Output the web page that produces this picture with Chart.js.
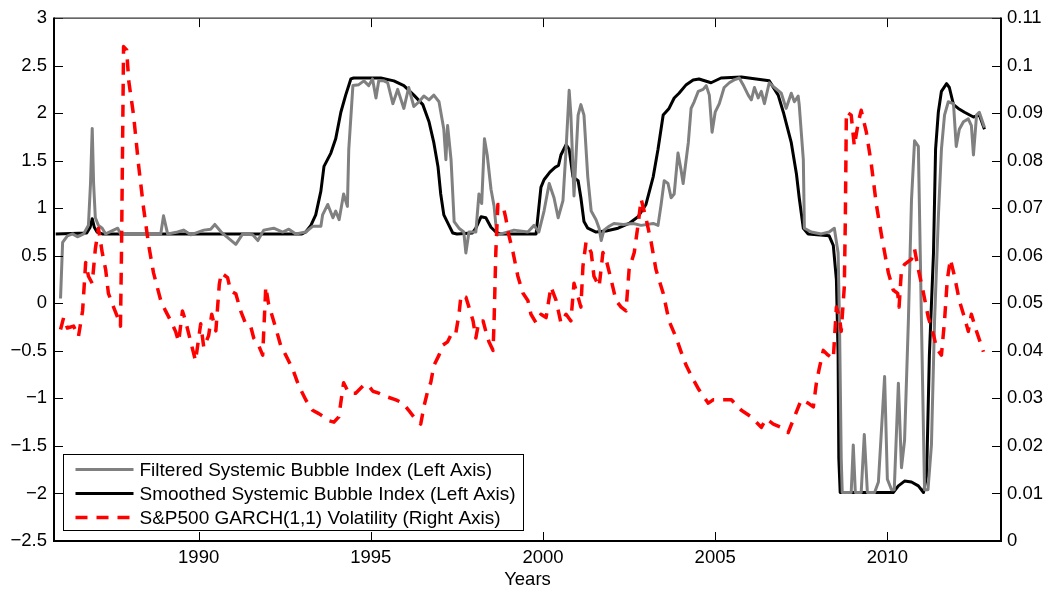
<!DOCTYPE html>
<html>
<head>
<meta charset="utf-8">
<script src="https://cdn.jsdelivr.net/npm/chart.js@4"></script>
<style>
  body { margin: 0; background: #fff; }
  #wrap { width: 1050px; height: 592px; }
</style>
</head>
<body>
<div id="wrap"><canvas id="myChart" width="1050" height="592"></canvas></div>
<script>
// x tick values (years) and axis tick labels
const yearTicks = [1990, 1995, 2000, 2005, 2010];
const leftTicks = [-2.5, -2, -1.5, -1, -0.5, 0, 0.5, 1, 1.5, 2, 2.5, 3];
const leftTickLabels = ["\u22122.5", "\u22122", "\u22121.5", "\u22121", "\u22120.5", "0", "0.5", "1", "1.5", "2", "2.5", "3"];
const rightTicks = [0, 0.01, 0.02, 0.03, 0.04, 0.05, 0.06, 0.07, 0.08, 0.09, 0.1, 0.11];
const rightTickLabels = ["0", "0.01", "0.02", "0.03", "0.04", "0.05", "0.06", "0.07", "0.08", "0.09", "0.1", "0.11"];

// Filtered systemic bubble index (left axis)
const filteredYears = [1985.99, 1986.05, 1986.19, 1986.34, 1986.48, 1986.66, 1986.80, 1986.86, 1986.91, 1986.95,
  1987.00, 1987.09, 1987.20, 1987.30, 1987.65, 1987.73, 1988.90, 1988.98, 1989.10, 1989.39,
  1989.56, 1989.77, 1990.15, 1990.35, 1990.47, 1990.68, 1991.08, 1991.28, 1991.57, 1991.72,
  1991.89, 1992.18, 1992.44, 1992.62, 1992.82, 1993.11, 1993.31, 1993.55, 1993.60, 1993.75,
  1993.90, 1993.98, 1994.08, 1994.21, 1994.32, 1994.36, 1994.48, 1994.65, 1994.80, 1994.94,
  1995.05, 1995.15, 1995.23, 1995.38, 1995.49, 1995.64, 1995.78, 1995.96, 1996.10, 1996.25,
  1996.40, 1996.54, 1996.69, 1996.83, 1996.98, 1997.12, 1997.18, 1997.23, 1997.33, 1997.42,
  1997.56, 1997.70, 1997.76, 1997.85, 1998.05, 1998.14, 1998.22, 1998.30, 1998.38, 1998.49,
  1998.58, 1998.66, 1998.78, 1999.16, 1999.56, 1999.74, 1999.88, 2000.03, 2000.18, 2000.32,
  2000.44, 2000.58, 2000.67, 2000.76, 2000.81, 2000.90, 2001.02, 2001.10, 2001.19, 2001.30,
  2001.40, 2001.54, 2001.63, 2001.69, 2001.77, 2001.92, 2002.06, 2002.33, 2002.62, 2002.85,
  2003.20, 2003.34, 2003.43, 2003.52, 2003.63, 2003.72, 2003.81, 2003.92, 2004.01, 2004.07,
  2004.22, 2004.30, 2004.39, 2004.51, 2004.65, 2004.74, 2004.83, 2004.91, 2005.00, 2005.12,
  2005.26, 2005.41, 2005.55, 2005.70, 2005.81, 2005.96, 2006.05, 2006.14, 2006.25, 2006.34,
  2006.43, 2006.57, 2006.72, 2006.92, 2007.06, 2007.21, 2007.30, 2007.41, 2007.44, 2007.56,
  2007.59, 2007.79, 2008.08, 2008.31, 2008.46, 2008.57, 2008.61, 2008.66, 2008.69, 2008.95,
  2009.01, 2009.07, 2009.24, 2009.33, 2009.42, 2009.63, 2009.74, 2009.92, 2010.00, 2010.12,
  2010.20, 2010.32, 2010.41, 2010.50, 2010.61, 2010.70, 2010.79, 2010.90, 2010.99, 2011.08,
  2011.18, 2011.28, 2011.37, 2011.48, 2011.57, 2011.66, 2011.77, 2011.92, 2012.00, 2012.09,
  2012.21, 2012.35, 2012.44, 2012.50, 2012.59, 2012.67, 2012.82];
const filteredValues = [0.05, 0.64, 0.71, 0.73, 0.70, 0.73, 0.82, 1.26, 1.84, 1.26,
  0.90, 0.82, 0.79, 0.73, 0.79, 0.73, 0.73, 0.92, 0.73, 0.75,
  0.77, 0.72, 0.77, 0.78, 0.83, 0.74, 0.62, 0.73, 0.72, 0.66,
  0.77, 0.79, 0.75, 0.78, 0.73, 0.75, 0.81, 0.81, 0.93, 1.04,
  0.90, 0.97, 0.88, 1.15, 1.02, 1.62, 2.29, 2.30, 2.34, 2.29,
  2.36, 2.16, 2.34, 2.34, 2.32, 2.10, 2.25, 2.05, 2.27, 2.07,
  2.12, 2.18, 2.14, 2.19, 2.12, 1.83, 1.51, 1.87, 1.51, 0.86,
  0.79, 0.75, 0.53, 0.75, 0.75, 1.15, 1.05, 1.73, 1.56, 1.20,
  1.02, 0.72, 0.73, 0.77, 0.75, 0.82, 0.75, 0.97, 1.26, 1.11,
  0.90, 1.08, 1.62, 2.24, 1.98, 1.13, 1.98, 2.09, 1.98, 1.33,
  0.97, 0.88, 0.79, 0.66, 0.77, 0.81, 0.84, 0.83, 0.84, 0.82,
  0.84, 0.82, 1.04, 1.29, 1.26, 1.11, 1.15, 1.58, 1.40, 1.26,
  1.69, 2.05, 2.12, 2.23, 2.25, 2.29, 2.19, 1.80, 2.01, 2.10,
  2.27, 2.32, 2.35, 2.37, 2.30, 2.19, 2.14, 2.27, 2.16, 2.23,
  2.10, 2.32, 2.27, 2.21, 2.05, 2.21, 2.12, 2.18, 2.09, 1.51,
  0.79, 0.75, 0.73, 0.75, 0.79, 0.53, -0.19, -1.63, -1.99, -1.99,
  -1.49, -1.99, -1.99, -1.38, -1.99, -1.99, -1.88, -0.77, -1.85, -1.96,
  -1.96, -0.84, -1.73, -1.44, -0.19, 1.08, 1.71, 1.65, -0.19, -1.96,
  -1.96, -1.49, -0.19, 0.90, 1.62, 1.98, 2.12, 2.10, 1.65, 1.83,
  1.91, 1.94, 1.87, 1.56, 1.98, 2.01, 1.85];

// Smoothed systemic bubble index (left axis)
const smoothedYears = [1985.85, 1986.75, 1986.85, 1986.91, 1986.97, 1987.05, 1987.20, 1993.00, 1993.11, 1993.26,
  1993.40, 1993.55, 1993.64, 1993.84, 1993.98, 1994.13, 1994.27, 1994.42, 1994.50, 1995.29,
  1995.67, 1995.96, 1996.25, 1996.51, 1996.69, 1996.83, 1996.95, 1997.03, 1997.12, 1997.27,
  1997.38, 1997.50, 1997.95, 1998.05, 1998.20, 1998.34, 1998.49, 1998.63, 1998.75, 1999.80,
  1999.94, 2000.03, 2000.20, 2000.35, 2000.45, 2000.52, 2000.67, 2000.76, 2000.87, 2001.02,
  2001.10, 2001.19, 2001.30, 2001.54, 2001.83, 2002.18, 2002.50, 2002.76, 2002.99, 2003.20,
  2003.34, 2003.49, 2003.66, 2003.81, 2003.95, 2004.16, 2004.36, 2004.53, 2004.88, 2005.17,
  2005.76, 2006.57, 2006.83, 2006.98, 2007.21, 2007.36, 2007.44, 2007.56, 2007.70, 2008.31,
  2008.43, 2008.52, 2008.57, 2008.59, 2008.63, 2010.17, 2010.32, 2010.50, 2010.70, 2010.90,
  2011.05, 2011.14, 2011.22, 2011.34, 2011.40, 2011.48, 2011.57, 2011.72, 2011.80, 2011.92,
  2012.06, 2012.24, 2012.50, 2012.67, 2012.82];
const smoothedValues = [0.73, 0.74, 0.80, 0.89, 0.80, 0.75, 0.73, 0.73, 0.75, 0.82,
  0.93, 1.18, 1.44, 1.58, 1.73, 2.01, 2.19, 2.36, 2.37, 2.37,
  2.34, 2.29, 2.19, 2.09, 1.91, 1.69, 1.44, 1.15, 0.93, 0.82,
  0.74, 0.73, 0.74, 0.79, 0.91, 0.90, 0.80, 0.75, 0.73, 0.73,
  1.22, 1.30, 1.38, 1.43, 1.45, 1.56, 1.67, 1.62, 1.33, 1.29,
  1.11, 0.86, 0.79, 0.75, 0.76, 0.79, 0.84, 0.91, 1.04, 1.33,
  1.62, 1.98, 2.05, 2.16, 2.21, 2.30, 2.35, 2.36, 2.32, 2.37,
  2.38, 2.34, 2.19, 2.01, 1.69, 1.36, 1.11, 0.79, 0.73, 0.71,
  0.61, 0.25, -0.55, -1.63, -1.99, -1.99, -1.92, -1.87, -1.88, -1.92,
  -1.99, -1.81, -0.55, 0.53, 1.62, 2.01, 2.23, 2.31, 2.27, 2.09,
  2.05, 2.01, 1.96, 1.98, 1.83];

// S&P500 GARCH(1,1) volatility (right axis)
const volYears = [1985.99, 1986.08, 1986.19, 1986.37, 1986.51, 1986.63, 1986.72, 1986.80, 1986.91, 1987.00,
  1987.09, 1987.20, 1987.30, 1987.38, 1987.53, 1987.65, 1987.73, 1987.76, 1987.80, 1987.82,
  1987.91, 1987.97, 1988.11, 1988.26, 1988.40, 1988.55, 1988.69, 1988.90, 1989.04, 1989.19,
  1989.33, 1989.42, 1989.53, 1989.62, 1989.77, 1989.91, 1990.06, 1990.15, 1990.29, 1990.38,
  1990.50, 1990.60, 1990.66, 1990.84, 1990.93, 1991.08, 1991.22, 1991.37, 1991.51, 1991.60,
  1991.74, 1991.86, 1991.95, 1992.03, 1992.24, 1992.38, 1992.53, 1992.73, 1992.91, 1993.11,
  1993.31, 1993.49, 1993.64, 1993.78, 1993.93, 1994.07, 1994.21, 1994.36, 1994.56, 1994.77,
  1994.91, 1995.06, 1995.23, 1995.44, 1995.73, 1995.93, 1996.10, 1996.25, 1996.45, 1996.54,
  1996.66, 1996.74, 1996.83, 1996.98, 1997.09, 1997.23, 1997.38, 1997.47, 1997.56, 1997.62,
  1997.76, 1997.85, 1997.97, 1998.05, 1998.14, 1998.26, 1998.34, 1998.43, 1998.55, 1998.58,
  1998.63, 1998.69, 1998.84, 1998.92, 1999.01, 1999.13, 1999.27, 1999.42, 1999.56, 1999.65,
  1999.80, 1999.94, 2000.09, 2000.23, 2000.38, 2000.52, 2000.67, 2000.81, 2000.90, 2001.02,
  2001.10, 2001.16, 2001.25, 2001.40, 2001.48, 2001.63, 2001.74, 2001.83, 2001.98, 2002.12,
  2002.27, 2002.41, 2002.50, 2002.65, 2002.76, 2002.85, 2002.99, 2003.14, 2003.28, 2003.49,
  2003.66, 2003.87, 2004.01, 2004.16, 2004.36, 2004.53, 2004.80, 2004.94, 2005.17, 2005.47,
  2005.76, 2006.05, 2006.34, 2006.48, 2006.69, 2006.92, 2007.12, 2007.30, 2007.50, 2007.70,
  2007.85, 2007.94, 2008.02, 2008.14, 2008.28, 2008.43, 2008.52, 2008.61, 2008.66, 2008.75,
  2008.78, 2008.81, 2008.95, 2009.04, 2009.16, 2009.24, 2009.39, 2009.53, 2009.68, 2009.83,
  2009.92, 2010.03, 2010.17, 2010.30, 2010.34, 2010.41, 2010.50, 2010.70, 2010.79, 2010.90,
  2011.05, 2011.19, 2011.34, 2011.43, 2011.57, 2011.66, 2011.74, 2011.83, 2011.95, 2012.09,
  2012.24, 2012.35, 2012.44, 2012.59, 2012.79];
const volValues = [0.0445, 0.0470, 0.0448, 0.0452, 0.0430, 0.0484, 0.0586, 0.0557, 0.0542, 0.0614,
  0.0658, 0.0607, 0.0571, 0.0521, 0.0492, 0.0470, 0.0452, 0.0607, 0.0896, 0.1040,
  0.1033, 0.0968, 0.0896, 0.0788, 0.0701, 0.0622, 0.0564, 0.0506, 0.0484, 0.0463,
  0.0441, 0.0419, 0.0484, 0.0463, 0.0419, 0.0379, 0.0457, 0.0407, 0.0432, 0.0477,
  0.0442, 0.0540, 0.0564, 0.0554, 0.0526, 0.0520, 0.0484, 0.0456, 0.0452, 0.0427,
  0.0412, 0.0391, 0.0535, 0.0499, 0.0448, 0.0412, 0.0391, 0.0362, 0.0326, 0.0297,
  0.0275, 0.0268, 0.0261, 0.0253, 0.0250, 0.0261, 0.0333, 0.0311, 0.0311, 0.0326,
  0.0329, 0.0315, 0.0311, 0.0304, 0.0297, 0.0290, 0.0275, 0.0261, 0.0246, 0.0282,
  0.0318, 0.0333, 0.0369, 0.0391, 0.0412, 0.0419, 0.0441, 0.0438, 0.0477, 0.0517,
  0.0513, 0.0492, 0.0463, 0.0427, 0.0463, 0.0463, 0.0441, 0.0419, 0.0401, 0.0463,
  0.0607, 0.0708, 0.0705, 0.0679, 0.0643, 0.0607, 0.0557, 0.0521, 0.0506, 0.0477,
  0.0459, 0.0477, 0.0470, 0.0535, 0.0506, 0.0459, 0.0477, 0.0463, 0.0542, 0.0513,
  0.0492, 0.0578, 0.0629, 0.0607, 0.0557, 0.0535, 0.0607, 0.0593, 0.0549, 0.0506,
  0.0492, 0.0484, 0.0571, 0.0607, 0.0665, 0.0719, 0.0679, 0.0629, 0.0571, 0.0521,
  0.0463, 0.0427, 0.0398, 0.0369, 0.0340, 0.0318, 0.0290, 0.0297, 0.0297, 0.0297,
  0.0275, 0.0261, 0.0239, 0.0257, 0.0246, 0.0239, 0.0228, 0.0261, 0.0297, 0.0290,
  0.0282, 0.0333, 0.0362, 0.0401, 0.0391, 0.0383, 0.0492, 0.0470, 0.0441, 0.0535,
  0.0679, 0.0903, 0.0896, 0.0831, 0.0882, 0.0906, 0.0860, 0.0795, 0.0708, 0.0643,
  0.0607, 0.0564, 0.0528, 0.0521, 0.0492, 0.0571, 0.0582, 0.0593, 0.0614, 0.0571,
  0.0521, 0.0470, 0.0434, 0.0405, 0.0391, 0.0463, 0.0549, 0.0593, 0.0557, 0.0506,
  0.0470, 0.0441, 0.0477, 0.0441, 0.0398];

const FONT = "'Liberation Sans', Arial, Helvetica, sans-serif";

function toPoints(xs, ys) {
  return xs.map(function (x, i) { return { x: x, y: ys[i] }; });
}

function line(ctx, x1, y1, x2, y2) {
  ctx.beginPath();
  ctx.moveTo(x1, y1);
  ctx.lineTo(x2, y2);
  ctx.stroke();
}

// box + inward ticks, matlab style
const axesBox = {
  id: "axesBox",
  afterDatasetsDraw(chart) {
    const ctx = chart.ctx;
    const a = chart.chartArea;
    const s = chart.scales;
    ctx.save();
    ctx.strokeStyle = "#000";
    ctx.lineWidth = 1;
    yearTicks.forEach(function (v) {
      const px = Math.round(s.x.getPixelForValue(v)) + 0.5;
      line(ctx, px, a.bottom, px, a.bottom - 9);
      line(ctx, px, a.top, px, a.top + 9);
    });
    leftTicks.forEach(function (v) {
      const py = Math.round(s.y.getPixelForValue(v)) + 0.5;
      line(ctx, a.left, py, a.left + 9, py);
    });
    rightTicks.forEach(function (v) {
      const py = Math.round(s.y1.getPixelForValue(v)) + 0.5;
      line(ctx, a.right, py, a.right - 9, py);
    });
    ctx.lineWidth = 1.3;
    ctx.strokeStyle = "#333";
    line(ctx, a.left, a.top, a.right, a.top);
    ctx.lineWidth = 2;
    ctx.strokeStyle = "#000";
    line(ctx, a.left, a.top - 0.6, a.left, a.bottom + 1);
    line(ctx, a.right, a.top - 0.6, a.right, a.bottom + 1);
    line(ctx, a.left - 1, a.bottom, a.right + 1, a.bottom);
    ctx.restore();
  },
  afterDraw(chart) {
    // legend box in the lower left corner
    const ctx = chart.ctx;
    const a = chart.chartArea;
    const bx = a.left + 9.5, by = a.bottom - 86.5, bw = 460, bh = 76;
    ctx.save();
    ctx.fillStyle = "#fff";
    ctx.fillRect(bx, by, bw, bh);
    ctx.strokeStyle = "#000";
    ctx.lineWidth = 1;
    ctx.strokeRect(bx, by, bw, bh);
    chart.data.datasets.forEach(function (ds, i) {
      const y = by + 15 + i * 24;
      ctx.strokeStyle = ds.borderColor;
      ctx.lineWidth = ds.borderWidth;
      ctx.setLineDash(ds.borderDash || []);
      line(ctx, bx + 12, y, bx + 70, y);
      ctx.setLineDash([]);
      ctx.fillStyle = "#000";
      ctx.font = "19px " + FONT;
      ctx.textBaseline = "middle";
      ctx.textAlign = "left";
      ctx.fillText(ds.label, bx + 76, y + 1);
    });
    ctx.restore();
  }
};

const ctx = document.querySelector("#myChart");
new Chart(ctx, {
  type: "line",
  data: {
    datasets: [
      {
        label: "Filtered Systemic Bubble Index (Left Axis)",
        data: toPoints(filteredYears, filteredValues),
        borderColor: "#808080",
        borderWidth: 3,
        yAxisID: "y",
        order: 1,
      },
      {
        label: "Smoothed Systemic Bubble Index (Left Axis)",
        data: toPoints(smoothedYears, smoothedValues),
        borderColor: "#000000",
        borderWidth: 3,
        yAxisID: "y",
        order: 2,
      },
      {
        label: "S&P500 GARCH(1,1) Volatility (Right Axis)",
        data: toPoints(volYears, volValues),
        borderColor: "#ff0000",
        borderWidth: 3.5,
        borderDash: [12, 9],
        yAxisID: "y1",
        order: 0,
      },
    ],
  },
  options: {
    responsive: false,
    animation: false,
    devicePixelRatio: 1,
    layout: { padding: { top: 15, left: 0, right: 0, bottom: 0 } },
    elements: {
      point: { radius: 0, hoverRadius: 0 },
      line: { tension: 0, borderJoinStyle: "round", fill: false },
    },
    plugins: {
      legend: { display: false },
      tooltip: { enabled: false },
    },
    scales: {
      x: {
        type: "linear",
        min: 1985.8,
        max: 2013.3,
        grid: { display: false, drawTicks: false },
        border: { display: false },
        afterBuildTicks(scale) {
          scale.ticks = yearTicks.map(function (v) { return { value: v }; });
        },
        afterFit(scale) { scale.height = 51; },
        ticks: {
          autoSkip: false,
          maxRotation: 0,
          padding: 6,
          color: "#000",
          font: { family: FONT, size: 18.5 },
          callback: function (v) { return String(v); },
        },
        title: {
          display: true,
          text: "Years",
          color: "#000",
          font: { family: FONT, size: 18.5 },
          padding: { top: 0, bottom: 1 },
        },
      },
      y: {
        position: "left",
        min: -2.5,
        max: 3,
        grid: { display: false, drawTicks: false },
        border: { display: false },
        afterBuildTicks(scale) {
          scale.ticks = leftTicks.map(function (v) { return { value: v }; });
        },
        afterFit(scale) { scale.width = 54; },
        ticks: {
          autoSkip: false,
          padding: 7,
          color: "#000",
          font: { family: FONT, size: 18.5 },
          callback: function (v, i) { return leftTickLabels[i]; },
        },
      },
      y1: {
        position: "right",
        min: 0,
        max: 0.11,
        grid: { display: false, drawTicks: false },
        border: { display: false },
        afterBuildTicks(scale) {
          scale.ticks = rightTicks.map(function (v) { return { value: v }; });
        },
        afterFit(scale) { scale.width = 49; },
        ticks: {
          autoSkip: false,
          padding: 6,
          color: "#000",
          font: { family: FONT, size: 18.5 },
          callback: function (v, i) { return rightTickLabels[i]; },
        },
      },
    },
  },
  plugins: [axesBox],
});
</script>
</body>
</html>
